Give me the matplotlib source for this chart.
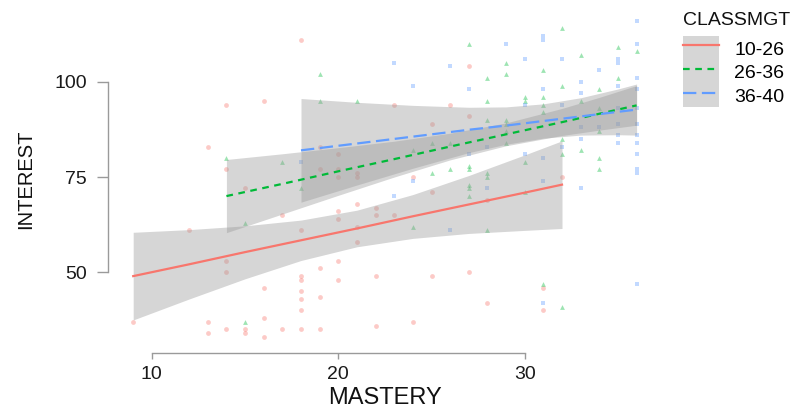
import matplotlib
matplotlib.use("Agg")
from matplotlib import pyplot as plt
from matplotlib.lines import Line2D
from matplotlib.patches import Patch
from matplotlib.legend_handler import HandlerTuple

plt.rcParams['font.family'] = ['Liberation Sans', 'DejaVu Sans']

# scatter points per CLASSMGT group (MASTERY, INTEREST)
red_x = [9, 12, 13, 13, 14, 14, 14, 15, 15, 16, 16, 16, 17, 17, 18, 18, 18, 18, 18, 18, 18,
         19, 19, 19, 20, 20, 20, 20, 21, 21, 21, 22, 22, 22, 22, 18, 14, 16, 13, 14, 19, 20,
         19, 20, 21, 27, 23, 26, 27, 25, 24, 23, 25, 28, 32, 25, 27, 31, 28, 31, 24, 15, 20, 21]
red_y = [37, 61, 37, 34, 53, 50, 35, 35, 34, 46, 38, 33, 65, 35, 61, 49, 48, 45, 43, 40, 35,
         51, 43.5, 35, 66, 64, 53, 48, 68, 62, 58, 67, 65, 49, 36, 111, 94, 95, 83, 77, 83, 81,
         77, 77, 75, 104, 94, 94, 91, 89, 75, 65, 71, 69, 75, 49, 50, 46, 42, 40, 37, 72, 75, 76]

green_x = [15, 14, 17, 19, 19, 21, 15, 18, 32, 27, 29, 29, 28, 33, 35, 36, 31, 32, 35, 34,
           28, 30, 30, 31, 31, 31, 33, 28, 29, 29, 29, 29, 27, 27, 25, 26, 24, 25, 26, 30,
           32, 32, 33, 34, 34, 34, 34, 24, 27, 27, 27, 28, 28, 28, 30, 31, 32]
green_y = [37, 80, 79, 102, 95, 95, 63, 72, 114, 110, 105, 102, 101, 107, 109, 108, 103, 99, 101, 98,
           95, 96, 95, 96, 94, 92, 95, 90, 90, 89, 87, 84, 78, 77, 84, 84, 82, 76, 77, 79,
           85, 81, 82, 80, 77, 87, 93, 62, 73, 72, 70, 76, 75, 61, 71, 47, 41]

blue_x = [18, 31, 31, 36, 29, 23, 26, 30, 32, 36, 35, 35, 34, 24, 27, 33, 33, 35, 36, 36,
          36, 30, 31, 32, 28, 27, 30, 31, 32, 33, 35, 36, 35, 36, 36, 36, 33, 34, 35, 23,
          24, 28, 26, 31, 33, 36, 36, 31, 36, 35]
blue_y = [79, 112, 111, 116, 110, 105, 104, 106, 106, 110, 105, 106, 103, 99, 98, 100, 97, 99, 101, 98,
          93, 94, 98, 94, 83, 81, 81, 80, 83, 85, 86, 86, 84, 84, 81, 76, 88, 88, 89, 70,
          74, 72, 61, 74, 72, 77, 47, 42, 89, 93]

# fitted lines with 95% confidence band
red_fx = [9, 12, 15, 18, 21, 24, 27, 30, 32]
red_fit = [49.0, 52.1, 55.3, 58.4, 61.5, 64.7, 67.8, 70.9, 73.0]
red_lo = [37.5, 43.0, 48.3, 53.1, 56.7, 58.9, 60.2, 61.0, 61.5]
red_hi = [60.5, 61.2, 62.2, 63.7, 66.3, 70.4, 75.4, 80.8, 84.5]

green_fx = [14, 17, 20, 23, 26, 29, 32, 34, 36]
green_fit = [70.0, 73.2, 76.5, 79.7, 83.0, 86.2, 89.4, 91.6, 93.8]
green_lo = [60.4, 65.3, 70.2, 75.0, 79.5, 83.2, 85.9, 87.3, 88.6]
green_hi = [79.6, 81.1, 82.7, 84.4, 86.5, 89.2, 93.0, 95.9, 99.0]

blue_fx = [18, 21, 24, 27, 29, 31, 33, 35, 36]
blue_fit = [82.0, 83.8, 85.6, 87.4, 88.5, 89.7, 90.9, 92.1, 92.7]
blue_lo = [68.4, 72.9, 77.3, 81.4, 83.6, 85.2, 86.0, 86.1, 86.0]
blue_hi = [95.6, 94.6, 93.8, 93.3, 93.4, 94.2, 95.8, 98.1, 99.4]

labels = ['10-26', '26-36', '36-40']
colors = ['#F8766D', '#00BA38', '#619CFF']
markers = ['o', '^', 's']
dashes = [(None, None), (3, 2.5), (6, 2.5)]

fig = plt.figure(figsize=(8.08, 4.12), dpi=100)
ax = fig.add_axes([0.1337, 0.1434, 0.6853, 0.8446])

groups = [(red_x, red_y, red_fx, red_fit, red_lo, red_hi),
          (green_x, green_y, green_fx, green_fit, green_lo, green_hi),
          (blue_x, blue_y, blue_fx, blue_fit, blue_lo, blue_hi)]

for (px, py, fx, fit, lo, hi), col, mk in zip(groups, colors, markers):
    ax.scatter(px, py, s=12, marker=mk, color=col, alpha=0.38, linewidths=0, zorder=1)

for (px, py, fx, fit, lo, hi) in groups:
    ax.fill_between(fx, lo, hi, color='#999999', alpha=0.4, linewidth=0, zorder=2)

handles = []
for (px, py, fx, fit, lo, hi), col, d in zip(groups, colors, dashes):
    ln, = ax.plot(fx, fit, color=col, lw=1.6, zorder=3)
    if d[0] is not None:
        ln.set_dashes(d)
    key_line = Line2D([], [], color=col, lw=1.6)
    if d[0] is not None:
        key_line.set_dashes(d)
    handles.append((Patch(facecolor='#999999', alpha=0.4, edgecolor='none'), key_line))

ax.set_xlim(7.65, 37.35)
ax.set_ylim(28.85, 120.15)
ax.set_xticks([10, 20, 30])
ax.set_yticks([50, 75, 100])

for side in ['top', 'right']:
    ax.spines[side].set_visible(False)
ax.spines['left'].set_bounds(50, 100)
ax.spines['bottom'].set_bounds(10, 30)
for side in ['left', 'bottom']:
    ax.spines[side].set_color('#9a9a9a')
    ax.spines[side].set_linewidth(1.0)

ax.tick_params(axis='y', length=8, width=1.0, color='#9a9a9a', pad=7,
               labelsize=14, labelcolor='#1a1a1a')
ax.tick_params(axis='x', length=4.5, width=1.0, color='#9a9a9a', pad=5,
               labelsize=14, labelcolor='#1a1a1a')

ax.set_xlabel('MASTERY', fontsize=17, color='#111111', labelpad=3)
ax.set_ylabel('INTEREST', fontsize=14.5, color='#111111', labelpad=14)

leg = fig.legend(handles, labels, title='CLASSMGT', loc='upper left',
                 bbox_to_anchor=(0.845, 0.97), frameon=False, fontsize=14,
                 title_fontsize=14, handler_map={tuple: HandlerTuple(ndivide=1)},
                 handlelength=1.85, handleheight=1.5, labelspacing=0,
                 handletextpad=0.8, borderpad=0, borderaxespad=0, alignment='left')
leg.get_title().set_color('#111111')
leg._legend_box.sep = 5

fig.savefig('out.png', dpi=100)
